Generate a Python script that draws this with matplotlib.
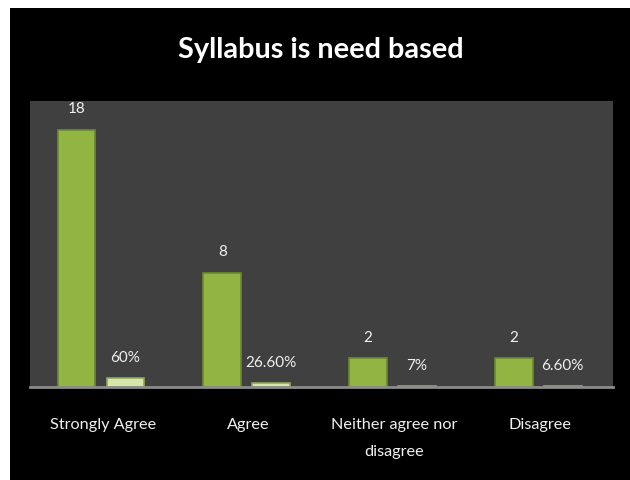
import matplotlib
matplotlib.use("Agg")
import matplotlib.pyplot as plt
from matplotlib.patches import Rectangle
import numpy as np

categories = ["Strongly Agree", "Agree", "Neither agree nor\ndisagree", "Disagree"]
counts = [18, 8, 2, 2]
percents = [0.60, 0.266, 0.07, 0.066]
count_labels = ["18", "8", "2", "2"]
percent_labels = ["60%", "26.60%", "7%", "6.60%"]
title = "Syllabus is need based"

FONT = ["Lato", "DejaVu Sans"]
plt.rcParams["font.family"] = FONT

W, H = 630, 480
fig = plt.figure(figsize=(W / 100, H / 100), dpi=100, facecolor="white")
# black chart area with white margin on left/top
fig.patches.append(Rectangle((10 / W, 0), 1 - 10 / W, 1 - 8 / H, transform=fig.transFigure,
                             facecolor="black", edgecolor="none", zorder=-5))

ax = fig.add_axes([30 / W, 1 - 387 / H, (613 - 30) / W, (387 - 101) / H])
ax.set_zorder(2)
ax.set_facecolor("#404040")

x = np.arange(len(categories))
bw = 0.26
b1 = ax.bar(x - 0.181, counts, width=bw, color="#91b443", edgecolor="#6a8a2c", linewidth=1.2, zorder=3)
b2 = ax.bar(x + 0.155, percents, width=bw, color="#d8e6ac", edgecolor="#8fa85a", linewidth=1.2, zorder=3)

for rect, lab in zip(b1, count_labels):
    ax.annotate(lab, (rect.get_x() + rect.get_width() / 2, rect.get_height()),
                xytext=(0, 14.5), textcoords="offset points", ha="center", va="center",
                color="#f0f0f0", fontsize=11)
for rect, lab in zip(b2, percent_labels):
    ax.annotate(lab, (rect.get_x() + rect.get_width() / 2, rect.get_height()),
                xytext=(0, 14.5), textcoords="offset points", ha="center", va="center",
                color="#f0f0f0", fontsize=11)

ax.set_xlim(-0.5, len(categories) - 0.5)
ax.set_ylim(0, 20)
ax.set_yticks([])
ax.set_xticks(x)
ax.set_xticklabels(categories, color="#f0f0f0", fontsize=11.7, linespacing=2.25)
ax.tick_params(axis="x", length=0, pad=22)
for s in ["top", "right", "left"]:
    ax.spines[s].set_visible(False)
ax.spines["bottom"].set_color("#8c8c8c")
ax.spines["bottom"].set_linewidth(2)
ax.spines["bottom"].set_zorder(4)

fig.text(320.5 / W, 1 - 50 / H, title, ha="center", va="center", color="white",
         fontsize=20.8, fontweight="bold")

fig.savefig("out.png", dpi=100, facecolor=fig.get_facecolor())
